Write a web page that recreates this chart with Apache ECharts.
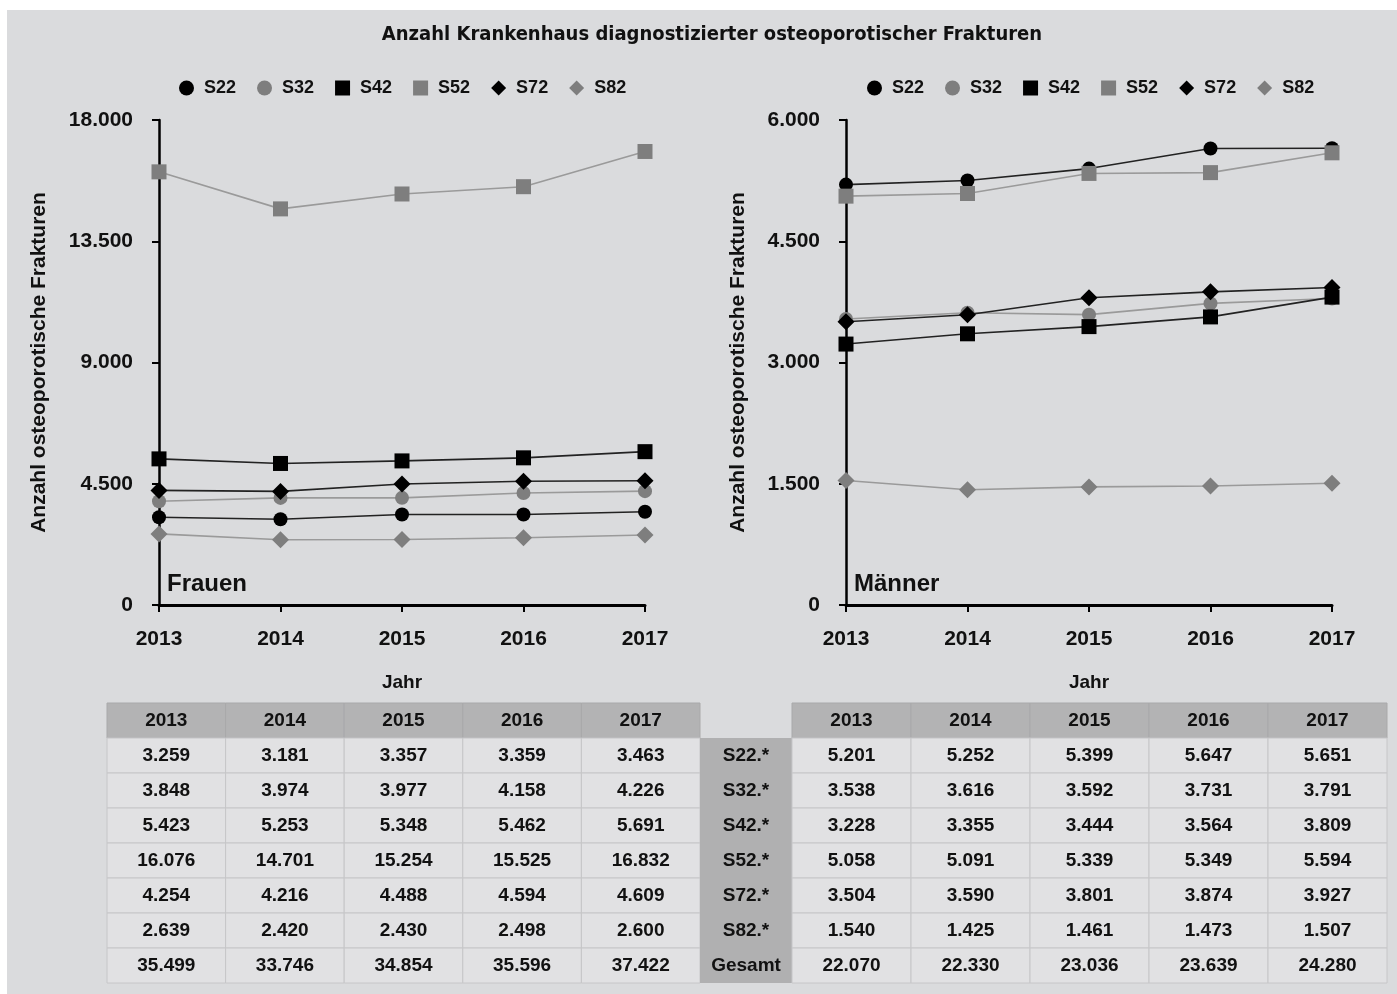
<!DOCTYPE html>
<html>
<head>
<meta charset="utf-8">
<script src="https://cdn.jsdelivr.net/npm/echarts@6/dist/echarts.min.js"></script>
<style>
  html, body { margin: 0; background: #fff; }
  #bg { position: absolute; left: 7px; top: 10px; width: 1390px; height: 984px; background: #dadbdd; }
  #chart { position: absolute; left: 0; top: 0; width: 1397px; height: 994px; }
</style>
</head>
<body>
<div id="bg"></div>
<div id="chart"></div>
<script>
const years = ["2013", "2014", "2015", "2016", "2017"];
const codes = ["S22", "S32", "S42", "S52", "S72", "S82"];
const rowLabels = ["S22.*", "S32.*", "S42.*", "S52.*", "S72.*", "S82.*", "Gesamt"];
const yTicksF = [0, 4500, 9000, 13500, 18000];
const yTicksM = [0, 1500, 3000, 4500, 6000];

// Frauen
const fS22 = [3259, 3181, 3357, 3359, 3463];
const fS32 = [3848, 3974, 3977, 4158, 4226];
const fS42 = [5423, 5253, 5348, 5462, 5691];
const fS52 = [16076, 14701, 15254, 15525, 16832];
const fS72 = [4254, 4216, 4488, 4594, 4609];
const fS82 = [2639, 2420, 2430, 2498, 2600];
const fGesamt = [35499, 33746, 34854, 35596, 37422];

// Männer
const mS22 = [5201, 5252, 5399, 5647, 5651];
const mS32 = [3538, 3616, 3592, 3731, 3791];
const mS42 = [3228, 3355, 3444, 3564, 3809];
const mS52 = [5058, 5091, 5339, 5349, 5594];
const mS72 = [3504, 3590, 3801, 3874, 3927];
const mS82 = [1540, 1425, 1461, 1473, 1507];
const mGesamt = [22070, 22330, 23036, 23639, 24280];

const frauen = [fS22, fS32, fS42, fS52, fS72, fS82];
const maenner = [mS22, mS32, mS42, mS52, mS72, mS82];

const BLACK = "#000", GREY = "#7e7e7e", GREYLINE = "#9a9a9a";
const looks = [
  { symbol: "circle", size: 14, color: BLACK, line: "#222" },
  { symbol: "circle", size: 14, color: GREY, line: GREYLINE },
  { symbol: "rect", size: 15, color: BLACK, line: "#222" },
  { symbol: "rect", size: 15, color: GREY, line: GREYLINE },
  { symbol: "diamond", size: 17, color: BLACK, line: "#222" },
  { symbol: "diamond", size: 17, color: GREY, line: GREYLINE }
];

const FONT = "'Liberation Sans', Arial, sans-serif";
const fmt = (n) => String(n).replace(/\B(?=(\d{3})+(?!\d))/g, ".");

function makeSeries(data, idx) {
  return data.map((vals, i) => ({
    name: codes[i], type: "line",
    xAxisIndex: idx, yAxisIndex: idx,
    data: vals,
    symbol: looks[i].symbol, symbolSize: looks[i].size,
    itemStyle: { color: looks[i].color },
    lineStyle: { color: looks[i].line, width: 1.6 },
    emphasis: { disabled: true },
    animation: false
  }));
}

function legend(left, idx) {
  return {
    left: left, top: 74,
    data: codes.map((c, i) => ({ name: c, icon: looks[i].symbol })),
    itemWidth: 15, itemHeight: 15, itemGap: 21,
    selectedMode: false,
    textStyle: { fontFamily: FONT, fontWeight: "bold", fontSize: 18, color: "#111", padding: [0, 0, 0, 5] }
  };
}

function xAxis(idx) {
  return {
    type: "category", gridIndex: idx, data: years, boundaryGap: false,
    name: "Jahr", nameLocation: "middle", nameGap: 68,
    nameTextStyle: { fontFamily: FONT, fontWeight: "bold", fontSize: 19, color: "#111" },
    axisLine: { lineStyle: { color: "#000", width: 3 } },
    axisTick: { length: 7, lineStyle: { color: "#000", width: 2 } },
    axisLabel: { margin: 24, fontFamily: FONT, fontWeight: "bold", fontSize: 21, color: "#111" },
    splitLine: { show: false }
  };
}

function yAxis(idx, ticks, gap) {
  return {
    type: "value", gridIndex: idx,
    min: ticks[0], max: ticks[ticks.length - 1], interval: ticks[1] - ticks[0],
    name: "Anzahl osteoporotische Frakturen", nameLocation: "middle", nameGap: gap,
    nameTextStyle: { fontFamily: FONT, fontWeight: "bold", fontSize: 21, color: "#111" },
    axisLine: { show: true, lineStyle: { color: "#000", width: 2.5 } },
    axisTick: { show: true, length: 7, lineStyle: { color: "#000", width: 2 } },
    axisLabel: { margin: 26, fontFamily: FONT, fontWeight: "bold", fontSize: 21, color: "#111", formatter: (v) => fmt(v) },
    splitLine: { show: false }
  };
}

// table built from the arrays
function table(x0, colW, rows, totals) {
  const g = [];
  const rowH = 35, headY = 703, bodyY = 738;
  const all = rows.concat([totals]);
  years.forEach((y, c) => {
    g.push({ type: "rect", shape: { x: x0 + c * colW, y: headY, width: colW, height: rowH },
      style: { fill: "#b3b3b4", stroke: "#a9a9aa", lineWidth: 1 } });
    g.push({ type: "text", x: x0 + c * colW + colW / 2, y: headY + rowH / 2,
      style: { text: y, fill: "#111", font: "bold 19px " + FONT, align: "center", verticalAlign: "middle" } });
  });
  all.forEach((vals, r) => {
    vals.forEach((v, c) => {
      g.push({ type: "rect", shape: { x: x0 + c * colW, y: bodyY + r * rowH, width: colW, height: rowH },
        style: { fill: "#e1e1e3", stroke: "#c6c6c8", lineWidth: 1 } });
      g.push({ type: "text", x: x0 + c * colW + colW / 2, y: bodyY + r * rowH + rowH / 2,
        style: { text: fmt(v), fill: "#111", font: "bold 19px " + FONT, align: "center", verticalAlign: "middle" } });
    });
  });
  return g;
}

function labelColumn(x, w) {
  const g = [];
  rowLabels.forEach((l, r) => {
    g.push({ type: "rect", shape: { x: x, y: 738 + r * 35, width: w, height: 35 },
      style: { fill: "#b0b0b1" } });
    g.push({ type: "text", x: x + w / 2, y: 738 + r * 35 + 17.5,
      style: { text: l, fill: "#111", font: "bold 19px " + FONT, align: "center", verticalAlign: "middle" } });
  });
  return g;
}

const chart = echarts.init(document.getElementById("chart"), null, { renderer: "canvas" });
chart.setOption({
  backgroundColor: "transparent",
  animation: false,
  title: {
    text: "Anzahl Krankenhaus diagnostizierter osteoporotischer Frakturen",
    left: 707, textAlign: "center", top: 20,
    textStyle: { fontFamily: "'DejaVu Sans Condensed', 'DejaVu Sans', sans-serif", fontWeight: "bold", fontSize: 20, color: "#111" }
  },
  legend: [legend(174, 0), legend(862, 1)],
  grid: [
    { left: 159, top: 120, width: 486, height: 485 },
    { left: 846, top: 120, width: 486, height: 485 }
  ],
  xAxis: [xAxis(0), xAxis(1)],
  yAxis: [yAxis(0, yTicksF, 109), yAxis(1, yTicksM, 97)],
  series: makeSeries(frauen, 0).concat(makeSeries(maenner, 1)),
  graphic: [
    { type: "text", x: 167, y: 584, style: { text: "Frauen", fill: "#111", font: "bold 24px " + FONT, verticalAlign: "middle" } },
    { type: "text", x: 854, y: 584, style: { text: "Männer", fill: "#111", font: "bold 24px " + FONT, verticalAlign: "middle" } }
  ].concat(table(107, 118.6, frauen, fGesamt), labelColumn(700, 92), table(792, 119, maenner, mGesamt))
});
</script>
</body>
</html>
